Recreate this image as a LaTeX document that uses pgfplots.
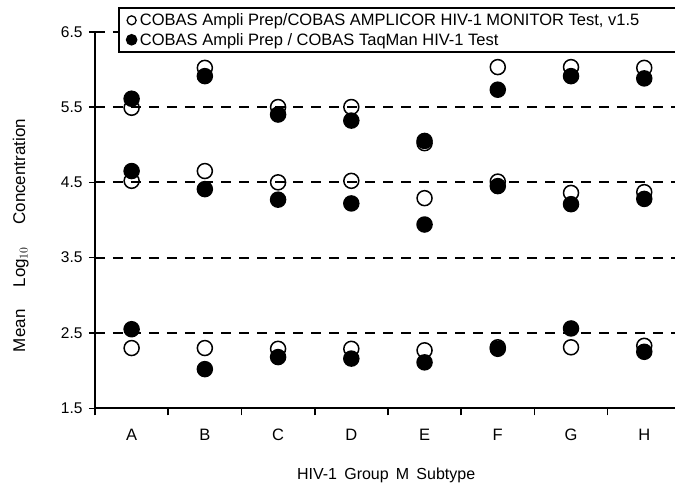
\documentclass[border=0pt]{standalone}
\usepackage{pgfplots}
\pgfplotsset{compat=1.18}
\usepackage{fontspec}
\setmainfont{Liberation Sans}

\pgfplotstableread{
x y
1 2.30
1 4.52
1 5.49
2 2.30
2 4.65
2 6.02
3 2.29
3 4.50
3 5.50
4 2.29
4 4.52
4 5.50
5 2.27
5 4.29
5 5.02
6 2.31
6 4.51
6 6.03
7 2.31
7 4.36
7 6.03
8 2.33
8 4.37
8 6.02
}\amplicor

\pgfplotstableread{
x y
1 2.55
1 4.65
1 5.61
2 2.02
2 4.41
2 5.91
3 2.18
3 4.27
3 5.40
4 2.16
4 4.22
4 5.32
5 2.11
5 3.94
5 5.05
6 2.29
6 4.45
6 5.73
7 2.56
7 4.21
7 5.91
8 2.25
8 4.28
8 5.88
}\taqman

\begin{document}
\begin{tikzpicture}
\begin{axis}[
  scale only axis,
  width=580bp, height=376.6bp,
  xmin=0.5, xmax=8.42,
  ymin=1.5, ymax=6.5,
  axis lines*=left,
  axis line style={line width=1.8bp},
  tick align=outside,
  major tick length=6bp,
  minor tick length=7bp,
  tick style={line width=1.6bp, black},
  xtick={1,2,3,4,5,6,7,8},
  xticklabels={A,B,C,D,E,F,G,H},
  major x tick style={draw=none},
  minor xtick={0.5,1.5,2.5,3.5,4.5,5.5,6.5,7.5},
  ytick={1.5,2.5,3.5,4.5,5.5,6.5},
  yticklabel style={/pgf/number format/fixed, /pgf/number format/fixed zerofill, /pgf/number format/precision=1, /pgf/number format/assume math mode=true, font=\fontsize{15.5bp}{17bp}\selectfont, xshift=-3bp},
  xticklabel style={font=\fontsize{16.5bp}{18bp}\selectfont, yshift=-11bp},
  ymajorgrids,
  major grid style={dash pattern=on 10bp off 8bp, line width=1.8bp, black},
  xlabel={HIV-1\hspace{0.45em}Group\hspace{0.45em}M\hspace{0.45em}Subtype},
  xlabel style={font=\fontsize{16bp}{18bp}\selectfont, at={(axis description cs:0.502,-0.178)}, anchor=center},
  ylabel={Mean\hspace{1.3em}Log$_{10}$\hspace{1.3em}Concentration},
  ylabel style={font=\fontsize{17bp}{19bp}\selectfont, at={(axis description cs:-0.128,0.459)}, anchor=center},
  legend style={at={(axis description cs:0.0397,1.0648)}, anchor=north west, draw=black, line width=1.6bp, fill=white, font=\fontsize{16.5bp}{19bp}\selectfont, row sep=3bp, inner xsep=4bp, inner ysep=4bp, nodes={inner sep=1.5bp}},
  legend cell align=left,
  clip=false,
]
\addplot[only marks, mark=o, mark size=7.5bp, mark options={line width=1.5bp, black},
  legend image code/.code={\path (0bp,0bp) (14bp,0bp); \draw[line width=1.3bp, black] (8bp,0bp) circle (4.5bp);}]
  table[x=x, y=y] {\amplicor};
\addlegendentry{\makebox[560bp][l]{COBAS Ampli Prep/COBAS AMPLICOR HIV-1 MONITOR Test, v1.5}}
\addplot[only marks, mark=*, mark size=7.5bp, mark options={line width=1.5bp, black, fill=black},
  legend image code/.code={\path (0bp,0bp) (14bp,0bp); \fill[black] (8bp,0bp) circle (5bp);}]
  table[x=x, y=y] {\taqman};
\addlegendentry{\makebox[560bp][l]{COBAS Ampli Prep / COBAS TaqMan HIV-1 Test}}
\end{axis}
\pgfresetboundingbox
\path[use as bounding box] (-95bp,-76.7bp) rectangle (580bp,408.3bp);
\end{tikzpicture}
\end{document}
